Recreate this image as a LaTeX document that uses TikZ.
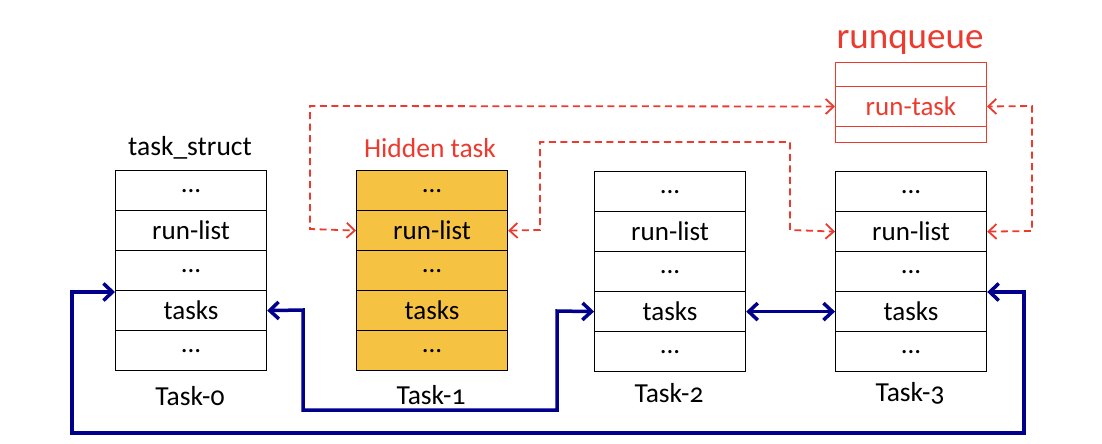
\documentclass[tikz,border=0pt]{standalone}
\usepackage{fontspec}
\setmainfont{Carlito}[Numbers=OldStyle]
\usetikzlibrary{arrows.meta}
\definecolor{rqred}{RGB}{236,58,46}
\definecolor{hidfill}{RGB}{245,194,66}
\definecolor{navyline}{RGB}{0,0,140}
\tikzset{
  rowbox/.style={draw=black, line width=1.2pt, minimum width=151pt, minimum height=40pt, inner sep=0pt, anchor=north west, font=\fontsize{27}{32}\selectfont},
  hidrow/.style={rowbox, fill=hidfill},
  rqrow/.style={draw=rqred, line width=1pt, minimum width=151pt, inner sep=0pt, anchor=north west, text=rqred, font=\fontsize{27}{32}\selectfont},
  lbl/.style={font=\fontsize{27.5}{32}\selectfont, inner sep=0pt},
  bluearrow/.style={draw=navyline, line width=3.5pt, {Straight Barb[length=9pt,width=17pt]}-{Straight Barb[length=9pt,width=17pt]}, line join=miter},
  redarrow/.style={draw=rqred, line width=1.8pt, dash pattern=on 7pt off 4.5pt, {Straight Barb[length=8pt,width=15pt]}-{Straight Barb[length=8pt,width=15pt]}}
}
\begin{document}
\begin{tikzpicture}[x=1pt,y=-1pt]
\useasboundingbox (0,0) rectangle (1102,444);
% Task-0
\node[rowbox] (t0a) at (115,170) {...};
\node[rowbox] (t0b) at (115,210) {run-list};
\node[rowbox] (t0c) at (115,250) {...};
\node[rowbox] (t0d) at (115,290) {tasks};
\node[rowbox] (t0e) at (115,330) {...};
% Task-1
\node[hidrow] (t1a) at (356,170) {...};
\node[hidrow] (t1b) at (356,210) {run-list};
\node[hidrow] (t1c) at (356,250) {...};
\node[hidrow] (t1d) at (356,290) {tasks};
\node[hidrow] (t1e) at (356,330) {...};
% Task-2
\node[rowbox] (t2a) at (594,171) {...};
\node[rowbox] (t2b) at (594,211) {run-list};
\node[rowbox] (t2c) at (594,251) {...};
\node[rowbox] (t2d) at (594,291) {tasks};
\node[rowbox] (t2e) at (594,331) {...};
% Task-3
\node[rowbox] (t3a) at (835,171) {...};
\node[rowbox] (t3b) at (835,211) {run-list};
\node[rowbox] (t3c) at (835,251) {...};
\node[rowbox] (t3d) at (835,291) {tasks};
\node[rowbox] (t3e) at (835,331) {...};
% runqueue
\node[rqrow, minimum height=24pt] (rqa) at (835,62) {};
\node[rqrow, minimum height=40pt] (rqb) at (835,86) {run-task};
\node[rqrow, minimum height=16pt] (rqc) at (835,126) {};
% labels
\node[lbl] (lts) at (190,148) {task\_struct};
\node[lbl, text=rqred] (lhid) at (430,148) {Hidden task};
\node[font=\fontsize{37}{42}\selectfont, text=rqred, inner sep=0pt] (lrq) at (910,42) {runqueue};
\node[lbl] (l0) at (190,396) {Task-0};
\node[lbl] (l1) at (431,395) {Task-1};
\node[lbl] (l2) at (669,393) {Task-2};
\node[lbl] (l3) at (910,393) {Task-3};
% red dashed connectors
\draw[redarrow] (rqb.west) -- (310,106) -- (310,229) -- (t1b.west);
\draw[redarrow] (t1b.east) -- (540,230) -- (540,142) -- (790,142) -- (790,230) -- (t3b.west);
\draw[redarrow] (t3b.east) -- (1032,231) -- (1032,106) -- (rqb.east);
% blue connectors
\draw[bluearrow] (t0d.north west) ++(0,2) coordinate (p0) -- (72,292) -- (72,433) -- (1024,433) -- (1024,292) -- ([yshift=-1pt]t3d.north east);
\draw[bluearrow] (t0d.east) -- (303,310) -- (303,410) -- (557,410) -- (557,311) -- (t2d.west);
\draw[bluearrow] (t2d.east) -- (t3d.west);
\end{tikzpicture}
\end{document}
